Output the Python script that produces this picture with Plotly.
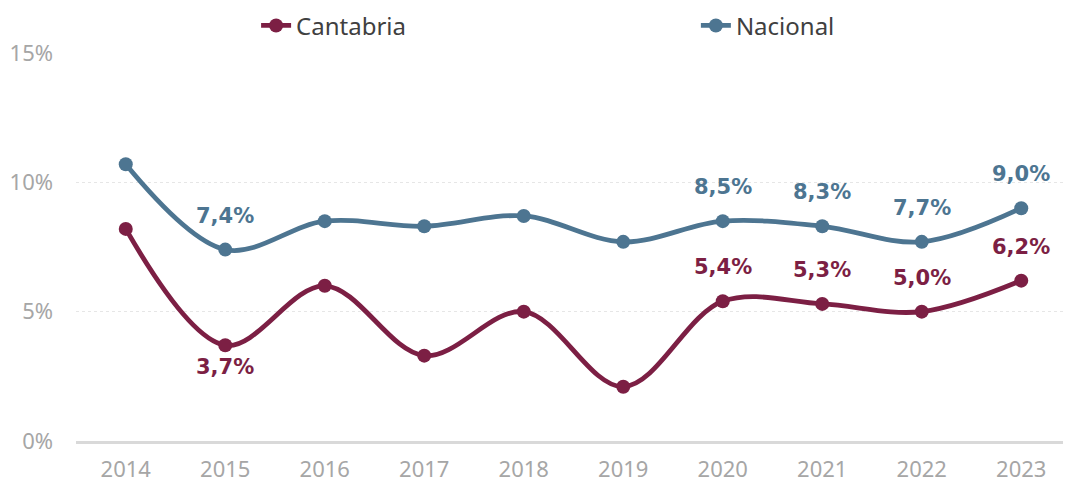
import plotly.graph_objects as go

# data (percent)
years = [2014, 2015, 2016, 2017, 2018, 2019, 2020, 2021, 2022, 2023]
cantabria = [8.2, 3.7, 6.0, 3.3, 5.0, 2.1, 5.4, 5.3, 5.0, 6.2]
nacional = [10.7, 7.4, 8.5, 8.3, 8.7, 7.7, 8.5, 8.3, 7.7, 9.0]
# which points carry a data label: 1 = above, -1 = below, 0 = none
cantabria_labels = [0, -1, 0, 0, 0, 0, 1, 1, 1, 1]
nacional_labels = [0, 1, 0, 0, 0, 0, 1, 1, 1, 1]
y_ticks = [0, 5, 10, 15]

COL_CANT = "#7C1F44"
COL_NAC = "#4D7591"


def fmt(v):
    return f"{v:.1f}".replace(".", ",") + "%"


fig = go.Figure()
for name, vals, col, leg in [("Cantabria", cantabria, COL_CANT, "legend"),
                             ("Nacional", nacional, COL_NAC, "legend2")]:
    fig.add_trace(go.Scatter(
        x=years, y=vals, name=name, mode="lines+markers", legend=leg,
        line=dict(color=col, width=4.8, shape="spline", smoothing=1),
        marker=dict(color=col, size=14),
    ))

# data labels
for vals, flags, col in [(cantabria, cantabria_labels, COL_CANT), (nacional, nacional_labels, COL_NAC)]:
    for yr, v, f in zip(years, vals, flags):
        if f == 0:
            continue
        fig.add_annotation(
            x=yr, y=v, text=fmt(v), showarrow=False,
            yshift=34 if f > 0 else -22,
            font=dict(family="DejaVu Sans", size=21, color=col, weight="bold"),
        )

# the page body adds an 8px offset, so the figure is 8px smaller than the window
leg_style = dict(orientation="h", yanchor="middle", xanchor="left", y=1.07,
                 font=dict(size=24, color="#404040"), bgcolor="rgba(0,0,0,0)")
fig.update_layout(
    width=1063, height=474,
    margin=dict(l=68, r=0, t=45, b=41, autoexpand=False),
    plot_bgcolor="#ffffff", paper_bgcolor="#ffffff",
    font=dict(family="Noto Sans, Open Sans, sans-serif", color="#A6A6A6", size=22),
    showlegend=True,
    legend=dict(x=0.181, **leg_style),
    legend2=dict(x=0.623, **leg_style),
)
fig.update_xaxes(
    range=[years[0] - 0.5, years[-1] + 0.5], tickvals=years,
    showgrid=False, ticks="", showline=True, zeroline=False, automargin=False,
    linecolor="#D9D9D9", linewidth=3, tickfont=dict(size=22, color="#A6A6A6"),
    ticklabelstandoff=7,
)
fig.update_yaxes(
    range=[0, 15], tickvals=y_ticks, ticktext=[f"{t}%" for t in y_ticks],
    showgrid=True, gridcolor="#E6E6E6", griddash="dot", gridwidth=1,
    zeroline=False, showline=False, ticks="", automargin=False,
    tickfont=dict(size=22, color="#A6A6A6"), ticklabelstandoff=22,
)

fig.write_html("out.html")
